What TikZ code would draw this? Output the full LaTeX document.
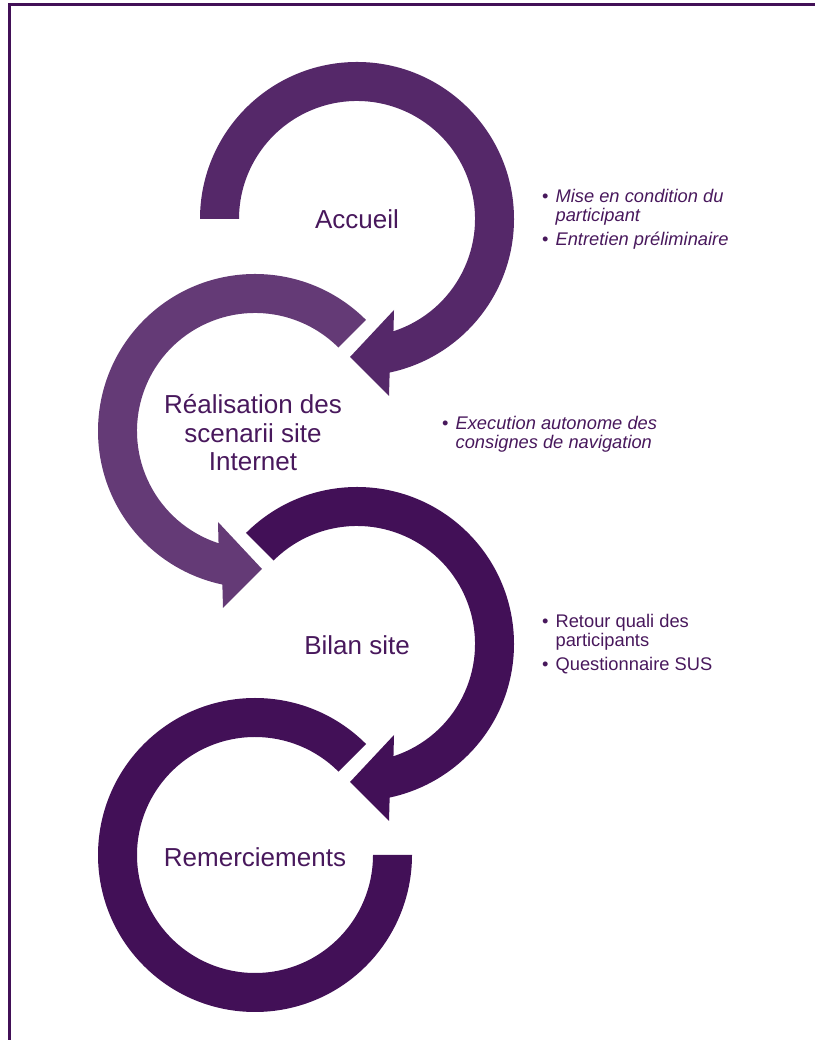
\documentclass[tikz,border=0pt]{standalone}
\usepackage{fontspec}
\setmainfont{Liberation Sans}
\usetikzlibrary{positioning}

\definecolor{plumA}{RGB}{85,40,105}
\definecolor{plumB}{RGB}{100,58,118}
\definecolor{plumC}{RGB}{66,16,87}
\definecolor{plumText}{RGB}{72,24,92}

\tikzset{
  stage/.style={text=plumText, font=\fontsize{26}{28.5}\selectfont, align=center},
  notes/.style={text=plumText, font=\fontsize{18.3}{19.5}\selectfont, anchor=west, inner sep=0pt},
}

\begin{document}
\begin{tikzpicture}[x=1pt, y=1pt]
    \useasboundingbox (0,0) rectangle (815,1040);

    % Frame
    \draw[plumC, line width=3pt] (9,0) -- (9,1035.5) -- (815,1035.5);

    % Ring 1 - Accueil (clockwise, arrow at the bottom)
    \begin{scope}[shift={(357,821)}]
        \fill[plumA] (180:157) arc[start angle=180, end angle=-78, radius=157]
            -- (32,-177) -- (-7,-138) -- (37,-91) -- (-72:118)
            arc[start angle=-72, end angle=180, radius=118] -- cycle;
        \node[stage] (accueil) at (0,0) {Accueil};
    \end{scope}

    % Ring 2 - Realisation (anticlockwise)
    \begin{scope}[shift={(255,609)}]
        \fill[plumB] (45:157) arc[start angle=45, end angle=258, radius=157]
            -- (-32,-177) -- (7,-138) -- (-37,-91) -- (252:118)
            arc[start angle=252, end angle=45, radius=118] -- cycle;
        \node[stage] (realisation) at (-2,-2) {Réalisation des\\scenarii site\\Internet};
    \end{scope}

    % Ring 3 - Bilan (clockwise)
    \begin{scope}[shift={(357,396)}]
        \fill[plumC] (135:157) arc[start angle=135, end angle=-78, radius=157]
            -- (32,-177) -- (-7,-138) -- (37,-91) -- (-72:118)
            arc[start angle=-72, end angle=135, radius=118] -- cycle;
        \node[stage] (bilan) at (0,-1) {Bilan site};
    \end{scope}

    % Ring 4 - Remerciements (open ring, no arrow)
    \begin{scope}[shift={(255,185)}]
        \fill[plumC] (45:157) arc[start angle=45, end angle=360, radius=157]
            -- (0:118) arc[start angle=360, end angle=45, radius=118] -- cycle;
        \node[stage] (remerciements) at (0,-2) {Remerciements};
    \end{scope}

    % Bullet notes
    \node[notes] (accueilnotes) at (542,820) {\itshape
        \begin{tabular}{@{}l@{\hspace{7pt}}l@{}}
        {\upshape\textbullet} & Mise en condition du\\
         & participant\\[4pt]
        {\upshape\textbullet} & Entretien préliminaire
        \end{tabular}};
    \node[notes] (realisationnotes) at (442,605) {\itshape
        \begin{tabular}{@{}l@{\hspace{7pt}}l@{}}
        {\upshape\textbullet} & Execution autonome des\\
         & consignes de navigation
        \end{tabular}};
    \node[notes] (bilannotes) at (542,395) {
        \begin{tabular}{@{}l@{\hspace{7pt}}l@{}}
        \textbullet & Retour quali des\\
         & participants\\[4pt]
        \textbullet & Questionnaire SUS
        \end{tabular}};
\end{tikzpicture}
\end{document}
